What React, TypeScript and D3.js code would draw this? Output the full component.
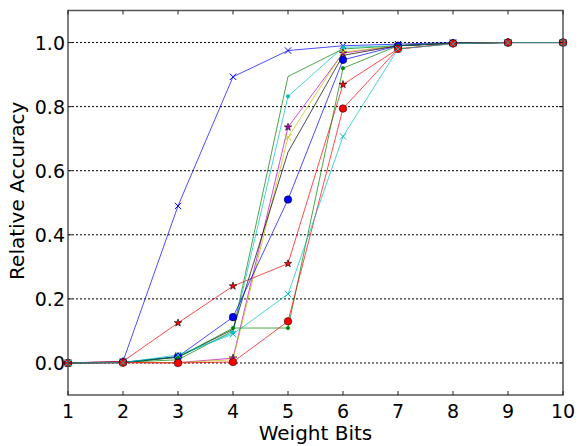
import React from 'react';
import * as d3 from 'd3';

const width = 579;
const height = 446;
const margin = { top: 10.5, right: 16, bottom: 51, left: 68 };

const bits = [1, 2, 3, 4, 5, 6, 7, 8, 9, 10];
const yTicks = [0.0, 0.2, 0.4, 0.6, 0.8, 1.0];

// one array per run, drawn in matplotlib's colour cycle order
const runA = [0, 0.005, 0.49, 0.893, 0.975, 0.99, 0.995, 1, 1, 1];
const runB = [0, 0.002, 0.01, 0.1, 0.894, 0.98, 0.99, 0.998, 1, 1];
const runC = [0, 0.005, 0.125, 0.24, 0.31, 0.869, 0.98, 0.997, 1, 1];
const runD = [0, 0.001, 0.02, 0.095, 0.832, 0.985, 0.99, 0.998, 1, 1];
const runE = [0, 0.001, 0.001, 0.015, 0.736, 0.967, 0.99, 0.998, 1, 1];
const runF = [0, 0.001, 0.001, 0.01, 0.704, 0.97, 0.99, 0.998, 1, 1];
const runG = [0, 0.001, 0.018, 0.105, 0.658, 0.96, 0.99, 0.998, 1, 1];
const runH = [0, 0.002, 0.02, 0.143, 0.51, 0.946, 0.99, 0.998, 1, 1];
const runI = [0, 0.002, 0.018, 0.109, 0.109, 0.92, 0.99, 0.998, 1, 1];
const runJ = [0, 0.001, 0.0, 0.003, 0.13, 0.794, 0.98, 0.997, 1, 1];
const runK = [0, 0.001, 0.025, 0.09, 0.215, 0.707, 0.98, 0.996, 1, 1];

const series = [
  { values: runA, color: '#0000ff', marker: 'x' },
  { values: runB, color: '#008000', marker: 'none' },
  { values: runC, color: '#ff0000', marker: 'star' },
  { values: runD, color: '#00bfbf', marker: 'dot' },
  { values: runE, color: '#bf00bf', marker: 'star' },
  { values: runF, color: '#bfbf00', marker: 'x' },
  { values: runG, color: '#000000', marker: 'none' },
  { values: runH, color: '#0000ff', marker: 'o' },
  { values: runI, color: '#008000', marker: 'dot' },
  { values: runJ, color: '#ff0000', marker: 'o' },
  { values: runK, color: '#00bfbf', marker: 'x' },
];

const xScale = d3.scaleLinear().domain([1, 10]).range([margin.left, width - margin.right]);
const yScale = d3.scaleLinear().domain([-0.1, 1.1]).range([height - margin.bottom, margin.top]);

const line = d3.line<number>()
  .x((d, i) => xScale(bits[i]))
  .y(d => yScale(d));

const starPath = d3.symbol().type(d3.symbolStar).size(18)() as string;

function Marker({ type, color, x, y }: { type: string; color: string; x: number; y: number }) {
  if (type === 'o') {
    return <circle cx={x} cy={y} r={3.8} fill={color} stroke="#000" strokeWidth={0.5} />;
  }
  if (type === 'dot') {
    return <circle cx={x} cy={y} r={1.8} fill={color} stroke={color} strokeWidth={0.5} />;
  }
  if (type === 'star') {
    return <path d={starPath} transform={`translate(${x},${y})`} fill={color} stroke="#000" strokeWidth={0.6} />;
  }
  if (type === 'x') {
    const s = 3.2;
    return (
      <path d={`M${x - s},${y - s}L${x + s},${y + s}M${x - s},${y + s}L${x + s},${y - s}`}
        stroke={color} strokeWidth={1} fill="none" />
    );
  }
  return null;
}

export default function App() {
  const x0 = margin.left;
  const x1 = width - margin.right;
  const y0 = margin.top;
  const y1 = height - margin.bottom;
  const font = 'DejaVu Sans, sans-serif';

  return (
    <svg width={width} height={height} style={{ position: 'absolute', left: 0, top: 0 }}
      fontFamily={font}>
      <rect x={0} y={0} width={width} height={height} fill="#fff" />

      {/* dotted grid */}
      {yTicks.map(t => (
        <line key={t} x1={x0} x2={x1} y1={yScale(t)} y2={yScale(t)}
          stroke="#000" strokeWidth={1} strokeDasharray="2,2" />
      ))}

      {/* lines */}
      {series.map((s, i) => (
        <path key={i} d={line(s.values) as string} fill="none" stroke={s.color}
          strokeWidth={1} strokeOpacity={0.7} />
      ))}

      {/* markers */}
      {series.map((s, i) => (
        <g key={i}>
          {s.values.map((v, j) => (
            <Marker key={j} type={s.marker} color={s.color} x={xScale(bits[j])} y={yScale(v)} />
          ))}
        </g>
      ))}

      {/* frame */}
      <rect x={x0} y={y0} width={x1 - x0} height={y1 - y0} fill="none" stroke="#555" strokeWidth={1.5} />

      {/* x ticks */}
      {bits.map(b => (
        <g key={b}>
          <line x1={xScale(b)} x2={xScale(b)} y1={y1} y2={y1 - 4} stroke="#222" />
          <line x1={xScale(b)} x2={xScale(b)} y1={y0} y2={y0 + 4} stroke="#222" />
          <text x={xScale(b)} y={y1 + 23} textAnchor="middle" fontSize={19} fill="#000">{b}</text>
        </g>
      ))}

      {/* y ticks */}
      {yTicks.map(t => (
        <g key={t}>
          <line x1={x0} x2={x0 + 4} y1={yScale(t)} y2={yScale(t)} stroke="#222" />
          <line x1={x1} x2={x1 - 4} y1={yScale(t)} y2={yScale(t)} stroke="#222" />
          <text x={x0 - 3} y={yScale(t) + 7} textAnchor="end" fontSize={19} fill="#000">{t.toFixed(1)}</text>
        </g>
      ))}

      <text x={(x0 + x1) / 2} y={height - 6} textAnchor="middle" fontSize={20} fill="#000">Weight Bits</text>
      <text transform={`translate(24,${(y0 + y1) / 2 - 12}) rotate(-90)`} textAnchor="middle" fontSize={20} fill="#000">
        Relative Accuracy
      </text>
    </svg>
  );
}
